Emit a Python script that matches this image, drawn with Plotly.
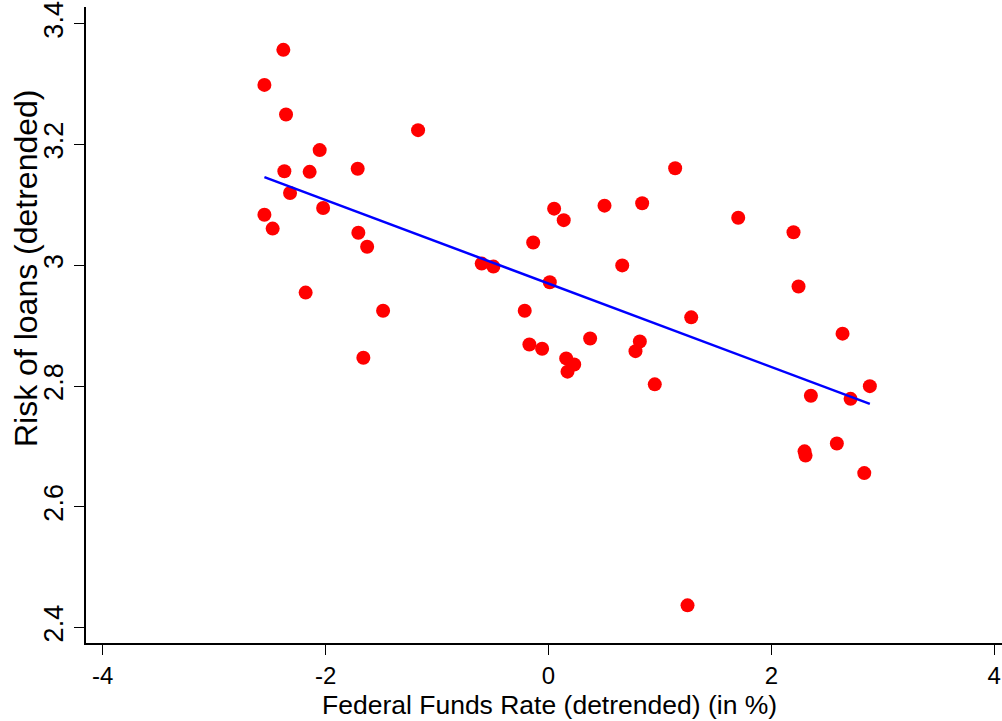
import numpy as np
import plotly.graph_objects as go

# Federal funds rate (detrended, %) and risk of loans (detrended)
ffr = [
    -2.379, -2.549, -2.355, -1.170, -2.053, -2.370, -2.143, -1.712, -2.319, -2.022,
    -2.549, -2.475, -1.706, -1.627, -2.179, -1.484, -1.661,
    1.137, 0.051, 0.503, 0.841, 0.137, -0.137, -0.599, -0.494, 0.662, 0.012,
    -0.213, 1.281, -0.171, -0.057, 0.374, 0.820, 0.781, 0.159, 0.231, 0.171, 0.954,
    1.703, 2.199, 2.244, 2.639, 2.884, 2.355, 2.711, 2.588, 2.298, 2.307, 2.834,
    1.248,
]
risk = [
    3.357, 3.299, 3.250, 3.224, 3.191, 3.156, 3.155, 3.160, 3.120, 3.095,
    3.084, 3.061, 3.054, 3.031, 2.955, 2.925, 2.847,
    3.161, 3.094, 3.099, 3.103, 3.075, 3.038, 3.003, 2.998, 3.000, 2.972,
    2.925, 2.914, 2.869, 2.862, 2.879, 2.874, 2.858, 2.846, 2.836, 2.824, 2.803,
    3.079, 3.055, 2.965, 2.887, 2.800, 2.784, 2.779, 2.705, 2.692, 2.685, 2.656,
    2.437,
]

x_ticks = [-4, -2, 0, 2, 4]
y_ticks = [2.4, 2.6, 2.8, 3.0, 3.2, 3.4]
y_tick_text = ["2.4", "2.6", "2.8", "3", "3.2", "3.4"]

xa = np.array(ffr)
ya = np.array(risk)
slope, intercept = np.polyfit(xa, ya, 1)
fit_x = np.array([xa.min(), xa.max()])
fit_y = intercept + slope * fit_x

FONT = "Liberation Sans, Arial, sans-serif"

fig = go.Figure()
fig.add_trace(go.Scatter(
    x=ffr, y=risk, mode="markers",
    marker=dict(color="#ff0000", size=14, line=dict(width=0)),
    showlegend=False, hoverinfo="x+y",
))
fig.add_trace(go.Scatter(
    x=fit_x, y=fit_y, mode="lines",
    line=dict(color="#0000ff", width=2.5),
    showlegend=False,
))

fig.update_layout(
    width=1002, height=721,
    margin=dict(l=86, r=0, t=7, b=78, autoexpand=False),
    paper_bgcolor="white", plot_bgcolor="white",
    font=dict(family=FONT, color="black"),
    xaxis=dict(
        range=[-4.15, 4.07], tickmode="array", tickvals=x_ticks,
        ticktext=[str(v) for v in x_ticks], automargin=False,
        showgrid=False, zeroline=False, showline=True, linecolor="black", linewidth=1.5,
        ticks="outside", ticklen=10, tickwidth=1.2, tickcolor="black",
        tickfont=dict(size=24, family=FONT, color="black"),
    ),
    yaxis=dict(
        range=[2.3746, 3.428], tickmode="array", tickvals=y_ticks, ticktext=y_tick_text,
        automargin=False,
        showgrid=False, zeroline=False, showline=True, linecolor="black", linewidth=1.5,
        ticks="outside", ticklen=10, tickwidth=1.2, tickcolor="black",
        tickangle=-90,
        tickfont=dict(size=27, family=FONT, color="black"),
    ),
    annotations=[
        dict(text="Federal Funds Rate (detrended) (in %)", xref="paper", yref="paper",
             x=(549 - 86) / 916, y=0, yshift=-45, xanchor="center", yanchor="top",
             showarrow=False, font=dict(size=26.5, family=FONT, color="black")),
        dict(text="Risk of loans (detrended)", xref="paper", yref="paper",
             x=0, xshift=-60, y=1 - (268 - 7) / 636, xanchor="center", yanchor="middle",
             textangle=-90, showarrow=False, font=dict(size=32, family=FONT, color="black")),
    ],
)

fig.write_html(
    "out.html",
    config={"displayModeBar": False},
    post_script="document.body.style.margin='0';document.body.style.overflow='hidden';",
)
